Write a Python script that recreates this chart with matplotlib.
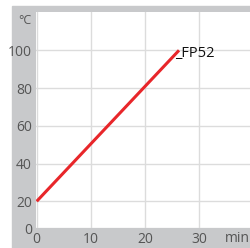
import matplotlib.pyplot as plt
from matplotlib.patches import Rectangle

# heating curve
time_min = [0, 26.3]
temp_c = [20, 100]
series_label = "_FP52"

x_ticks = [0, 10, 20, 30]
y_ticks = [5.85, 20, 40, 60, 80, 100]
y_tick_labels = ["0", "20", "40", "60", "80", "100"]

W, H = 251, 248
fig = plt.figure(figsize=(W / 100, H / 100), dpi=100)
plt.rcParams["font.family"] = ["Open Sans", "DejaVu Sans"]

# grey frame behind the plot
fig.patches.append(Rectangle((12 / W, 0), 1, (H - 6) / H, transform=fig.transFigure,
                             color="#c8c9cb", zorder=-1))

ax = fig.add_axes([36 / W, 20 / H, 1 - 36 / W, 216 / H])
ax.set_facecolor("white")
ax.plot(time_min, temp_c, color="#e8262a", lw=2.2, solid_capstyle="butt", zorder=3)
ax.text(time_min[-1] - 0.7, temp_c[-1] - 1.5, series_label, fontsize=10.5, color="#111111",
        va="center", ha="left")

ax.set_xlim(-0.13, 39.6)
ax.set_ylim(5.85, 120.3)
ax.set_xticks(x_ticks)
ax.set_yticks(y_ticks)
ax.set_yticklabels(y_tick_labels)
ax.grid(True, color="#dcdcdc", lw=1)
ax.set_axisbelow(True)
for s in ax.spines.values():
    s.set_visible(False)
ax.tick_params(length=0, labelsize=10, labelcolor="#555555")
ax.tick_params(axis="y", pad=3)
ax.tick_params(axis="x", pad=3)

# unit labels
fig.text(250 / W, 1 - 239 / H, "min", fontsize=10, color="#555555", va="center", ha="right")
fig.text(25 / W, 1 - 20 / H, "°C", fontsize=9, color="#555555", va="center", ha="center")

fig.savefig("out.png", dpi=100)
